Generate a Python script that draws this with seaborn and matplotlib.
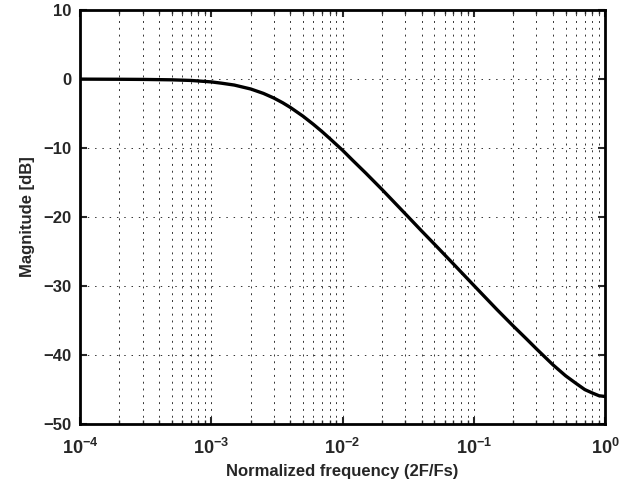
import matplotlib
matplotlib.use("Agg")
import matplotlib.pyplot as plt
import matplotlib.ticker as mticker
import numpy as np
import pandas as pd
import seaborn as sns

# values
freq = [1e-4, 2e-4, 3e-4, 5e-4, 7e-4, 1e-3, 1.2e-3, 1.5e-3, 2e-3, 2.5e-3, 3e-3,
        3.5e-3, 4e-3, 5e-3, 6e-3, 7e-3, 8e-3, 1e-2, 1.2e-2, 1.5e-2, 2e-2, 3e-2,
        4e-2, 5e-2, 7e-2, 1e-1, 1.5e-1, 2e-1, 2.5e-1, 3e-1, 4e-1, 5e-1, 6e-1,
        7e-1, 8e-1, 9e-1, 9.5e-1, 1.0]
mag_db = [0.0, -0.02, -0.04, -0.10, -0.19, -0.40, -0.59, -0.86, -1.43, -2.07,
          -2.74, -3.42, -4.09, -5.37, -6.55, -7.62, -8.61, -10.3, -11.8, -13.6,
          -16.0, -19.5, -22.0, -23.9, -26.8, -29.9, -33.4, -35.8, -37.6, -39.1,
          -41.4, -43.0, -44.1, -45.0, -45.5, -45.9, -45.95, -46.0]

xtick_vals = [1e-4, 1e-3, 1e-2, 1e-1, 1.0]
xtick_labels = ["$10^{-4}$", "$10^{-3}$", "$10^{-2}$", "$10^{-1}$", "$10^{0}$"]
ytick_vals = [-50, -40, -30, -20, -10, 0, 10]

sns.set_style("ticks")
plt.rcParams["font.family"] = ["Liberation Sans", "DejaVu Sans"]
plt.rcParams["font.weight"] = "bold"
plt.rcParams["mathtext.fontset"] = "custom"
plt.rcParams["mathtext.rm"] = "Liberation Sans:bold"
plt.rcParams["mathtext.bf"] = "Liberation Sans:bold"
plt.rcParams["mathtext.default"] = "rm"

df = pd.DataFrame({"f": freq, "mag": mag_db})

fig = plt.figure(figsize=(6.39, 4.83), dpi=100)
ax = fig.add_axes([0.125, 0.122, 0.822, 0.857])

ax.set_xscale("log")
ax.set_xlim(1e-4, 1)
ax.set_ylim(-50, 10)

# grid: every minor decade step on x, majors on y
minor_x = [m * 10.0 ** e for e in range(-4, 0) for m in range(1, 10)][1:]
for xv in minor_x:
    ax.axvline(xv, color="0.2", lw=0.7, ls=(0, (2, 5)), zorder=1)
for yv in ytick_vals[1:-1]:
    ax.axhline(yv, color="0.2", lw=0.7, ls=(0, (1.5, 6)), zorder=1)

sns.lineplot(data=df, x="f", y="mag", color="black", lw=2.4, ax=ax, zorder=3)

ax.set_xticks(xtick_vals)
ax.set_xticklabels(xtick_labels)
ax.xaxis.set_minor_locator(mticker.LogLocator(base=10, subs=np.arange(2, 10)))
ax.xaxis.set_minor_formatter(mticker.NullFormatter())
ax.set_yticks(ytick_vals)
ax.set_yticklabels([str(v).replace("-", "\u2212") for v in ytick_vals])

ax.tick_params(which="major", direction="in", length=5, width=1.5,
               top=True, right=True, labelsize=12, pad=6)
ax.tick_params(axis="x", which="major", pad=10, labelsize=13)
ax.tick_params(which="minor", direction="in", length=3, width=1.0,
               top=True, right=True)
for s in ax.spines.values():
    s.set_linewidth(2.0)
    s.set_color("black")

ax.set_xlabel("Normalized frequency (2F/Fs)", fontsize=12, fontweight="bold", labelpad=4)
ax.set_ylabel("Magnitude [dB]", fontsize=12, fontweight="bold", labelpad=6)

fig.savefig("out.png", dpi=100)
